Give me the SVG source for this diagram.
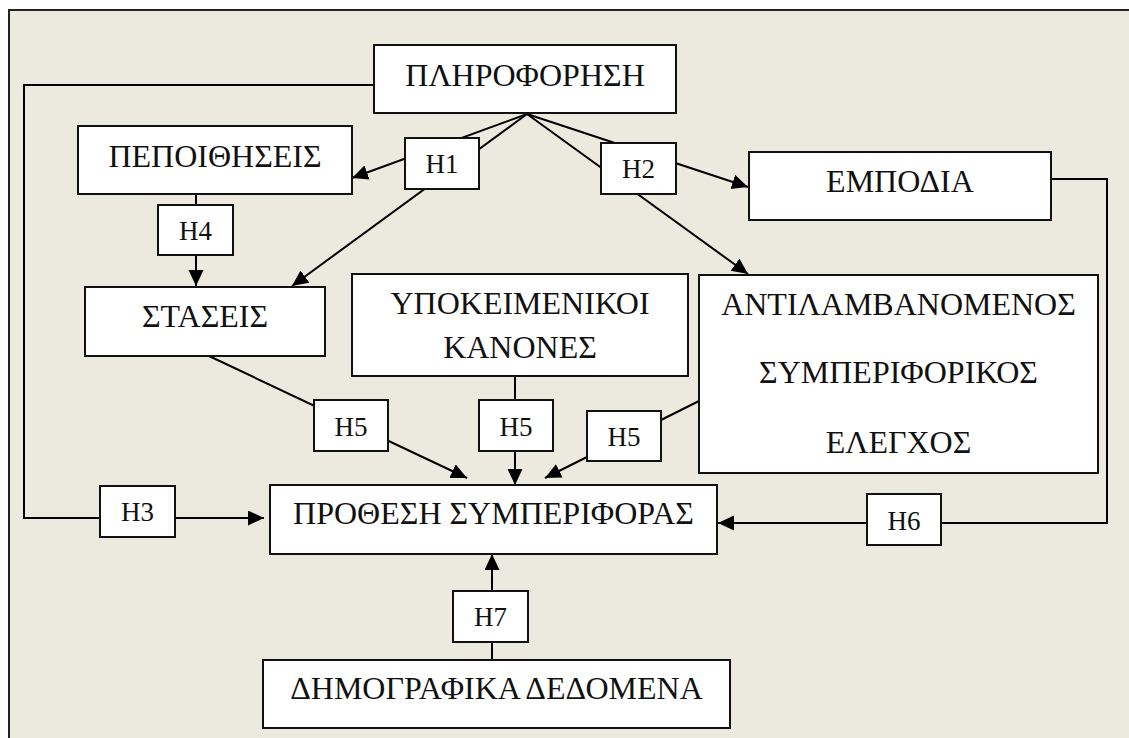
<svg xmlns="http://www.w3.org/2000/svg" width="1129" height="738" viewBox="0 0 1129 738">
<defs>
<marker id="ah" markerUnits="userSpaceOnUse" markerWidth="17" markerHeight="16" refX="16" refY="7.5" orient="auto" viewBox="0 0 17 16">
<path d="M0,0 L16,7.5 L0,15 z" fill="#000"/>
</marker>
<style>
.box{fill:#fff;stroke:#111;stroke-width:2}
.t{font-family:"Liberation Serif","DejaVu Serif",serif;font-size:32px;fill:#111;text-anchor:middle}
.h{font-family:"Liberation Serif","DejaVu Serif",serif;font-size:27px;fill:#111;text-anchor:middle}
.c{fill:none;stroke:#000;stroke-width:2}
.a{marker-end:url(#ah)}
</style>
</defs>
<rect x="0" y="0" width="1129" height="738" fill="#fff"/>
<rect x="9" y="10" width="1130" height="740" fill="#ECE9DF" stroke="#222" stroke-width="2"/>
<g id="connectors">
<path class="c a" d="M374,85 H24 V518 H264"/>
<path class="c a" d="M527,114 L352,178"/>
<path class="c a" d="M527,114 L292,286"/>
<path class="c a" d="M527,114 L748,187"/>
<path class="c a" d="M527,114 L748,274"/>
<path class="c a" d="M196,194 V286"/>
<path class="c a" d="M209,356 L467,478"/>
<path class="c a" d="M515,376 V485"/>
<path class="c a" d="M699,401 L545,478"/>
<path class="c a" d="M1051,179 H1107 V523 H718"/>
<path class="c a" d="M492,660 V554"/>
</g>
<g id="n-pliroforisi"><rect class="box" x="374" y="45" width="302" height="68"/><text class="t" x="525" y="86">ΠΛΗΡΟΦΟΡΗΣΗ</text></g>
<g id="n-pepoithiseis"><rect class="box" x="78" y="126" width="274" height="68"/><text class="t" x="215" y="167">ΠΕΠΟΙΘΗΣΕΙΣ</text></g>
<g id="n-empodia"><rect class="box" x="749" y="152" width="302" height="68"/><text class="t" x="900" y="192">ΕΜΠΟΔΙΑ</text></g>
<g id="n-staseis"><rect class="box" x="85" y="287" width="240" height="69"/><text class="t" x="205" y="327">ΣΤΑΣΕΙΣ</text></g>
<g id="n-kanones"><rect class="box" x="352" y="274" width="336" height="102"/><text class="t" x="520" y="314">ΥΠΟΚΕΙΜΕΝΙΚΟΙ</text><text class="t" x="520" y="358">ΚΑΝΟΝΕΣ</text></g>
<g id="n-elegxos"><rect class="box" x="699" y="275" width="399" height="198"/><text class="t" x="898.5" y="315">ΑΝΤΙΛΑΜΒΑΝΟΜΕΝΟΣ</text><text class="t" x="898.5" y="383">ΣΥΜΠΕΡΙΦΟΡΙΚΟΣ</text><text class="t" x="898.5" y="453">ΕΛΕΓΧΟΣ</text></g>
<g id="n-prothesi"><rect class="box" x="270" y="485" width="447" height="69"/><text class="t" x="493.5" y="524">ΠΡΟΘΕΣΗ ΣΥΜΠΕΡΙΦΟΡΑΣ</text></g>
<g id="n-dimografika"><rect class="box" x="263" y="660" width="467" height="68"/><text class="t" x="496.5" y="699">ΔΗΜΟΓΡΑΦΙΚΑ ΔΕΔΟΜΕΝΑ</text></g>
<g id="h1"><rect class="box" x="405" y="138" width="74" height="51"/><text class="h" x="442" y="173">H1</text></g>
<g id="h2"><rect class="box" x="601" y="143" width="75" height="51"/><text class="h" x="638.5" y="178">H2</text></g>
<g id="h4"><rect class="box" x="158" y="205" width="75" height="50"/><text class="h" x="195.5" y="240">H4</text></g>
<g id="h5a"><rect class="box" x="314" y="400" width="74" height="51"/><text class="h" x="351" y="436">H5</text></g>
<g id="h5b"><rect class="box" x="479" y="400" width="74" height="51"/><text class="h" x="516" y="436">H5</text></g>
<g id="h5c"><rect class="box" x="587" y="411" width="74" height="50"/><text class="h" x="624" y="446">H5</text></g>
<g id="h3"><rect class="box" x="100" y="486" width="75" height="51"/><text class="h" x="137.5" y="521">H3</text></g>
<g id="h6"><rect class="box" x="867" y="494" width="74" height="51"/><text class="h" x="904" y="530">H6</text></g>
<g id="h7"><rect class="box" x="453" y="591" width="75" height="51"/><text class="h" x="490.5" y="626">H7</text></g>
</svg>
